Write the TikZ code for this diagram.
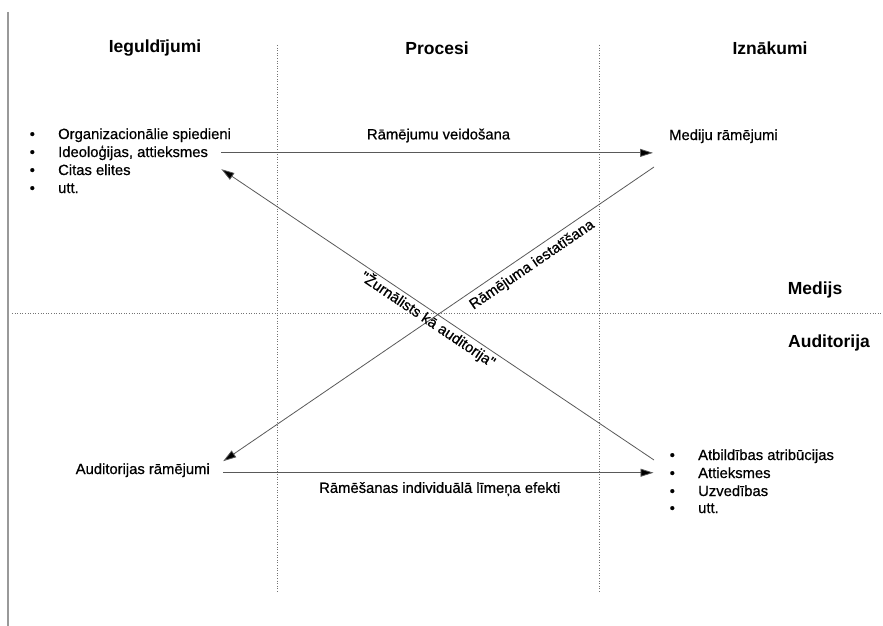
\documentclass[tikz,border=0pt]{standalone}
\usepackage{fontspec}
\setmainfont{Liberation Sans}
\newfontfamily\bodyfont{Liberation Sans}[FakeBold=0.6]
\usetikzlibrary{arrows.meta,positioning}
\tikzstyle{head} = [font={\fontsize{17.5}{20}\selectfont\bfseries}, inner sep=0pt]
\tikzstyle{txt} = [font={\fontsize{14.8}{18}\bodyfont}, inner sep=0pt]
\tikzstyle{sep} = [draw=black!55, line width=0.7pt, dash pattern=on 1pt off 1.6pt]
\tikzstyle{flow} = [draw=black!65, line width=0.8pt, -{Triangle[length=13pt,width=8pt,fill=black]}]
\newcommand{\bul}{\makebox[28.5pt][l]{•}}

\begin{document}
\begin{tikzpicture}[x=1pt,y=-1pt]
    \useasboundingbox (0,0) rectangle (883,626);
    % frame and separators
    \draw[black!40, line width=1.2pt] (8,12) -- (8,626);
    \draw[sep] (277,45) -- (277,593);
    \draw[sep] (599,45) -- (599,593);
    \draw[sep] (12,313) -- (883,313);
    % column heads
    \node[head](in) at (155,48){Ieguldījumi};
    \node[head](pr) at (437,48){Procesi};
    \node[head](out) at (770,48){Iznākumi};
    \node[head](med) at (815,290){Medijs};
    \node[head](aud) at (829,343){Auditorija};
    % inputs
    \node[txt,anchor=base west](org) at (29.5,139){\bul Organizacionālie spiedieni};
    \node[txt,anchor=base west](ideo) at (29.5,157){\bul Ideoloģijas, attieksmes};
    \node[txt,anchor=base west](elit) at (29.5,175){\bul Citas elites};
    \node[txt,anchor=base west](utt1) at (29.5,193){\bul utt.};
    \node[txt,anchor=base east](audfr) at (210,474){Auditorijas rāmējumi};
    % outcomes
    \node[txt,anchor=base west](media) at (669,140){Mediju rāmējumi};
    \node[txt,anchor=base west](attr) at (669.5,460){\bul Atbildības atribūcijas};
    \node[txt,anchor=base west](att) at (669.5,478){\bul Attieksmes};
    \node[txt,anchor=base west](beh) at (669.5,496){\bul Uzvedības};
    \node[txt,anchor=base west](utt2) at (669.5,513){\bul utt.};
    \coordinate (mr) at (654,167);
    \coordinate (ab) at (654,460);
    % flows
    \draw[flow,shorten <=13pt,shorten >=16pt](ideo.east)--node[txt,above=10pt]{Rāmējumu veidošana}(ideo.east -| media.west);
    \draw[flow,shorten <=13pt,shorten >=16pt](att.west -| audfr.east)--node[txt,below=9pt]{Rāmēšanas individuālā līmeņa efekti}(att.west);
    \draw[flow,shorten >=16pt](mr)--node[txt,sloped,below=5pt,pos=0.29]{Rāmējuma iestatīšana}(audfr.east);
    \draw[flow,shorten >=16pt](ab)--node[txt,sloped,below=1pt,pos=0.495]{"Žurnālists kā auditorija"}(ideo.south east);
\end{tikzpicture}
\end{document}
